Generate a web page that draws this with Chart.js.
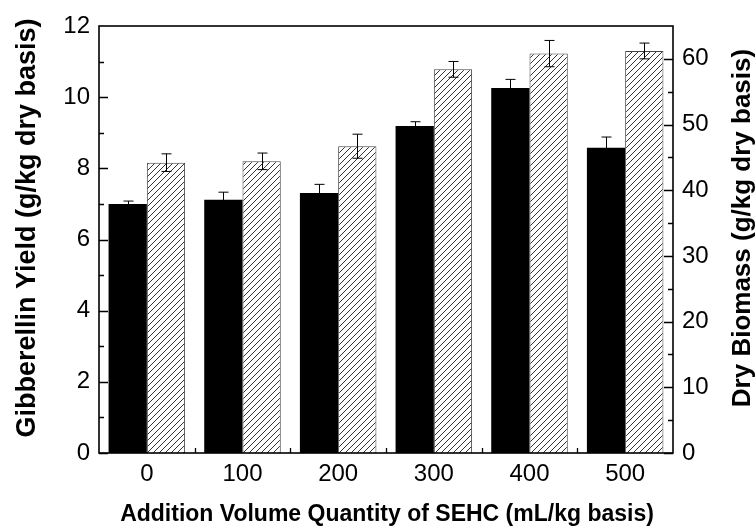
<!DOCTYPE html>
<html>
<head>
<meta charset="utf-8">
<script src="https://cdn.jsdelivr.net/npm/chart.js@4"></script>
<style>
html,body{margin:0;padding:0;background:#fff;}
#wrap{width:756px;height:529px;position:relative;}
</style>
</head>
<body>
<div id="wrap"><canvas id="c" width="756" height="529"></canvas></div>
<script>
// Data
const categories = ['0', '100', '200', '300', '400', '500'];
const gibberellinYield = [7.0, 7.12, 7.31, 9.19, 10.26, 8.58];
const gibberellinErr = [0.08, 0.21, 0.24, 0.12, 0.24, 0.30];
const dryBiomass = [44.2, 44.4, 46.7, 58.4, 60.8, 61.2];
const dryBiomassErr = [1.34, 1.26, 1.83, 1.2, 2.0, 1.2];
const leftTicks = [0, 2, 4, 6, 8, 10, 12];
const rightTicks = [0, 10, 20, 30, 40, 50, 60];
const xTitle = 'Addition Volume Quantity of SEHC (mL/kg basis)';
const yTitle = 'Gibberellin Yield (g/kg dry basis)';
const y1Title = 'Dry Biomass (g/kg dry basis)';

const FONT = '"Liberation Sans", Arial, sans-serif';

// hatch pattern
function makeHatch() {
  const s = 6;
  const p = document.createElement('canvas');
  p.width = s; p.height = s;
  const g = p.getContext('2d');
  g.fillStyle = '#fff';
  g.fillRect(0, 0, s, s);
  g.strokeStyle = '#333';
  g.lineWidth = 1;
  g.beginPath();
  g.moveTo(0, s); g.lineTo(s, 0);
  g.moveTo(-s / 2, s / 2); g.lineTo(s / 2, -s / 2);
  g.moveTo(s / 2, s * 1.5); g.lineTo(s * 1.5, s / 2);
  g.stroke();
  return document.getElementById('c').getContext('2d').createPattern(p, 'repeat');
}

const framePlugin = {
  id: 'frame',
  afterDatasetsDraw(chart) {
    const ctx = chart.ctx;
    const a = chart.chartArea;
    const x = chart.scales.x, y = chart.scales.y, y1 = chart.scales.y1;
    ctx.save();
    // error bars
    ctx.strokeStyle = '#000';
    ctx.lineWidth = 1;
    const drawErr = (dsIndex, vals, errs, scale) => {
      const meta = chart.getDatasetMeta(dsIndex);
      meta.data.forEach((bar, i) => {
        const cx = Math.round(bar.x) + 0.5;
        const yt = scale.getPixelForValue(vals[i] + errs[i]);
        const yb = scale.getPixelForValue(vals[i] - errs[i]);
        ctx.beginPath();
        ctx.moveTo(cx, yt); ctx.lineTo(cx, yb);
        ctx.moveTo(cx - 5, yt); ctx.lineTo(cx + 5, yt);
        ctx.moveTo(cx - 5, yb); ctx.lineTo(cx + 5, yb);
        ctx.stroke();
      });
    };
    drawErr(0, gibberellinYield, gibberellinErr, y);
    drawErr(1, dryBiomass, dryBiomassErr, y1);
    // frame
    ctx.strokeStyle = '#000';
    ctx.lineWidth = 1.6;
    ctx.strokeRect(a.left, a.top, a.right - a.left, a.bottom - a.top);
    // ticks inward
    ctx.lineWidth = 1.3;
    ctx.beginPath();
    for (let v = 0; v <= 12; v += 1) {
      if (v === 12) continue;
      const py = Math.round(y.getPixelForValue(v)) + 0.5;
      const len = (v % 2 === 0) ? 9 : 5;
      ctx.moveTo(a.left, py); ctx.lineTo(a.left + len, py);
    }
    for (let v = 0; v <= 60; v += 5) {
      const py = Math.round(y1.getPixelForValue(v)) + 0.5;
      const len = (v % 10 === 0) ? 9 : 5;
      ctx.moveTo(a.right, py); ctx.lineTo(a.right - len, py);
    }
    for (let i = 0; i < categories.length - 1; i++) {
      const px = Math.round((x.getPixelForValue(i) + x.getPixelForValue(i + 1)) / 2) + 0.5;
      ctx.moveTo(px, a.bottom); ctx.lineTo(px, a.bottom - 5);
    }
    ctx.stroke();
    ctx.restore();
  },
  afterDraw(chart) {
    const ctx = chart.ctx;
    const a = chart.chartArea;
    ctx.save();
    ctx.fillStyle = '#000';
    ctx.font = 'bold 23px ' + FONT;
    ctx.textAlign = 'center';
    ctx.textBaseline = 'alphabetic';
    ctx.fillText(xTitle, 387, 521);
    ctx.save();
    ctx.font = 'bold 27px ' + FONT;
    ctx.translate(35, 228);
    ctx.rotate(-Math.PI / 2);
    ctx.fillText(yTitle, 0, 0);
    ctx.restore();
    ctx.save();
    ctx.font = 'bold 26px ' + FONT;
    ctx.translate(750, 228);
    ctx.rotate(-Math.PI / 2);
    ctx.fillText(y1Title, 0, 0);
    ctx.restore();
    ctx.restore();
  }
};

const tickFont = { family: FONT, size: 24 };

new Chart(document.getElementById('c'), {
  type: 'bar',
  data: {
    labels: categories,
    datasets: [
      {
        label: 'Gibberellin Yield',
        data: gibberellinYield,
        yAxisID: 'y',
        backgroundColor: '#000',
        borderColor: '#000',
        borderWidth: 0,
        categoryPercentage: 0.8,
        barPercentage: 1.0
      },
      {
        label: 'Dry Biomass',
        data: dryBiomass,
        yAxisID: 'y1',
        backgroundColor: makeHatch(),
        borderColor: '#444',
        borderWidth: 1,
        categoryPercentage: 0.8,
        barPercentage: 1.0
      }
    ]
  },
  options: {
    responsive: false,
    animation: false,
    devicePixelRatio: 1,
    layout: { padding: { top: 26, left: 0, right: 0, bottom: 0 } },
    plugins: { legend: { display: false }, tooltip: { enabled: false } },
    scales: {
      x: {
        offset: true,
        grid: { display: false, drawTicks: false },
        border: { display: false },
        ticks: { color: '#000', font: tickFont, padding: 7, maxRotation: 0 },
        afterFit(s) { s.height = 76; }
      },
      y: {
        position: 'left',
        min: 0, max: 12,
        grid: { display: false, drawTicks: false },
        border: { display: false },
        ticks: {
          color: '#000', font: tickFont, padding: 9, stepSize: 2, autoSkip: false,
          callback: (v) => leftTicks.includes(v) ? String(v) : ''
        },
        afterFit(s) { s.width = 99; }
      },
      y1: {
        position: 'right',
        min: 0, max: 65,
        grid: { display: false, drawTicks: false },
        border: { display: false },
        ticks: {
          color: '#000', font: tickFont, padding: 9, stepSize: 10, autoSkip: false,
          callback: (v) => rightTicks.includes(v) ? String(v) : ''
        },
        afterFit(s) { s.width = 83; }
      }
    }
  },
  plugins: [framePlugin]
});
</script>
</body>
</html>
